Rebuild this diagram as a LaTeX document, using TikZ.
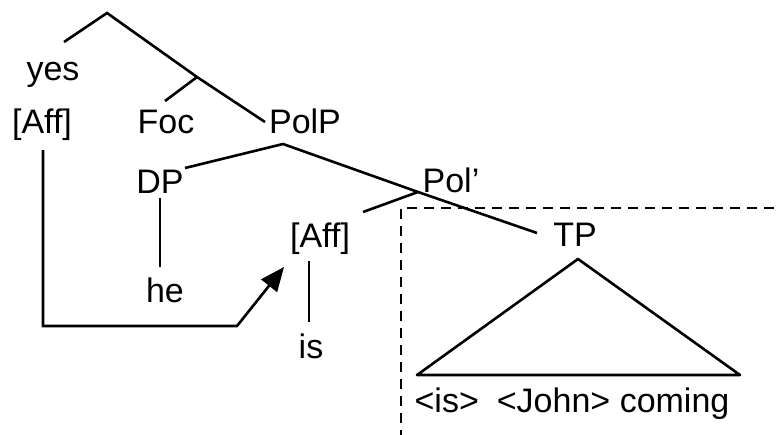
\documentclass[tikz,border=0pt]{standalone}
\usepackage{fontspec}
\setmainfont{Liberation Sans}
\usetikzlibrary{arrows.meta}
\tikzset{
  lbl/.style={anchor=base,inner sep=0pt,font=\fontsize{17}{20}\selectfont},
  branch/.style={line width=1.3pt},
}
\begin{document}
\begin{tikzpicture}[x=0.5pt,y=-0.5pt]
\useasboundingbox (0,0) rectangle (780,434);
% dashed box
\draw[line width=1.2pt,dash pattern=on 5pt off 3.5pt] (401,440)--(401,208)--(785,208);

% labels
\node[lbl] (yes) at (53,80) {yes};
\node[lbl] (affL) at (42,133) {[Aff]};
\node[lbl] (foc) at (166,133) {Foc};
\node[lbl] (polp) at (305,133) {PolP};
\node[lbl] (dp) at (160,193) {DP};
\node[lbl] (polb) at (451,192) {Pol'};
\node[lbl] (affM) at (320,247) {[Aff]};
\node[lbl] (tp) at (575,246) {TP};
\node[lbl] (he) at (165,302) {he};
\node[lbl] (is) at (311,358) {is};
\node[lbl] (str) at (572,412) {<is>\hspace{9pt}<John> coming};

% branch points
\coordinate (top) at (107,13);
\coordinate (yesT) at (64,42);
\coordinate (focB) at (197,77);
\coordinate (focT) at (165,101);
\coordinate (polpT) at (265,122);
\coordinate (polpB) at (283,144);
\coordinate (dpT) at (185,168);
\coordinate (polbB) at (418,192);
\coordinate (affMT) at (363,212);
\coordinate (tpT) at (537,233);
\coordinate (dpB) at (160,198);
\coordinate (heT) at (160,267);
\coordinate (affMB) at (309,261);
\coordinate (isT) at (309,322);
\coordinate (tri) at (578,259);
\coordinate (triL) at (417,375);
\coordinate (triR) at (740,375);
\coordinate (affLB) at (43,150);
\coordinate (corner) at (43,326);
\coordinate (bend) at (237,326);
\coordinate (tip) at (284,267);

\draw[branch] (yesT)--(top)--(focB)--(polpT);
\draw[branch] (focB)--(focT);
\draw[branch] (dpT)--(polpB)--(polbB)--(tpT);
\draw[branch] (polbB)--(affMT);
\draw[branch] (dpB)--(heT);
\draw[branch] (affMB)--(isT);
\draw[branch,line join=round] (tri)--(triL)--(triR)--cycle;
\draw[branch,-{Triangle[length=12pt,width=10pt]}] (affLB)--(corner)--(bend)--(tip);
\end{tikzpicture}
\end{document}
